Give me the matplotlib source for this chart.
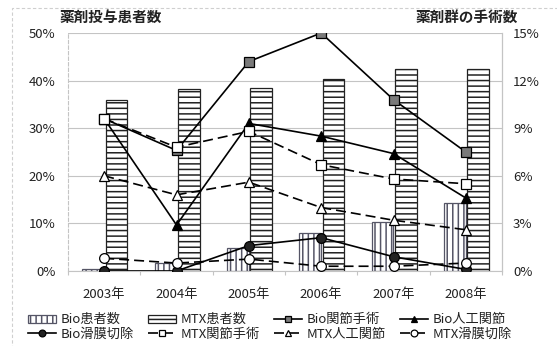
import matplotlib
matplotlib.use("Agg")
import matplotlib.pyplot as plt
from matplotlib.patches import Rectangle
import numpy as np

plt.rcParams['font.family'] = ['Noto Sans CJK JP', 'DejaVu Sans']
plt.rcParams['hatch.linewidth'] = 1.1

years = ["2003年", "2004年", "2005年", "2006年", "2007年", "2008年"]

# patient share (left axis, %)
bio_patients = [0.5, 1.7, 4.8, 8.0, 10.3, 14.3]
mtx_patients = [36.0, 38.2, 38.4, 40.3, 42.4, 42.4]

# surgery share (right axis, %)
bio_joint_surgery = [9.6, 7.6, 13.2, 15.0, 10.8, 7.5]
bio_arthroplasty = [9.6, 2.9, 9.3, 8.5, 7.4, 4.6]
bio_synovectomy = [0.0, 0.0, 1.6, 2.1, 0.9, 0.1]
mtx_joint_surgery = [9.6, 7.8, 8.8, 6.7, 5.8, 5.5]
mtx_arthroplasty = [6.0, 4.8, 5.6, 4.0, 3.2, 2.6]
mtx_synovectomy = [0.8, 0.5, 0.75, 0.3, 0.3, 0.5]

W, H = 557, 346
fig = plt.figure(figsize=(W / 100, H / 100), dpi=100)
ax = fig.add_axes([68 / W, 1 - 271 / H, (502 - 68) / W, (271 - 33) / H])
ax2 = ax.twinx()

x = np.arange(len(years))
bw = 0.30
grid_c = "#c4c4c4"

# bars on the left axis
ax.bar(x - bw, bio_patients, width=bw, align="edge", facecolor="white",
       edgecolor="#555566", hatch="|||", linewidth=0.9, zorder=2, label="Bio患者数")
ax.bar(x + 0.02, mtx_patients, width=bw, align="edge", facecolor="white",
       edgecolor="#222222", hatch="---", linewidth=0.9, zorder=2, label="MTX患者数")

ax.set_xlim(-0.5, len(years) - 0.5)
ax.set_ylim(0, 50)
ax.set_yticks(np.arange(0, 51, 10))
ax.set_yticklabels([f"{v}%" for v in range(0, 51, 10)])
ax.yaxis.grid(True, color=grid_c, linewidth=0.8, zorder=0)
ax.set_axisbelow(True)
ax.tick_params(axis="y", length=0, pad=9, labelsize=9.5, colors="#222222")
ax.set_xticks(np.arange(-0.5, len(years), 1.0))
ax.set_xticklabels([])
ax.set_xticks(x, minor=True)
ax.set_xticklabels(years, minor=True)
ax.tick_params(axis="x", which="major", length=3, color=grid_c, direction="out")
ax.tick_params(axis="x", which="minor", length=0, pad=12, labelsize=9.5, colors="#222222")
ax.spines["top"].set_visible(False)
ax.spines["left"].set_color(grid_c)
ax.spines["left"].set_linestyle((0, (3, 2)))
ax.spines["bottom"].set_color(grid_c)
ax.spines["right"].set_color(grid_c)

# lines on the right axis
dash = (0, (6, 3))
common = dict(color="black", linewidth=1.2, markersize=7, markeredgecolor="black",
              markeredgewidth=0.9)
ax2.plot(x, bio_joint_surgery, marker="s", markerfacecolor="#7a7a7a",
         linestyle="-", label="Bio関節手術", **common)
ax2.plot(x, bio_arthroplasty, marker="^", markerfacecolor="black",
         linestyle="-", label="Bio人工関節", **common)
ax2.plot(x, bio_synovectomy, marker="o", markerfacecolor="#222222",
         linestyle="-", label="Bio滑膜切除", **common)
ax2.plot(x, mtx_joint_surgery, marker="s", markerfacecolor="white",
         linestyle=dash, label="MTX関節手術", **common)
ax2.plot(x, mtx_arthroplasty, marker="^", markerfacecolor="white",
         linestyle=dash, label="MTX人工関節", **common)
ax2.plot(x, mtx_synovectomy, marker="o", markerfacecolor="white",
         linestyle=dash, label="MTX滑膜切除", **common)

ax2.set_ylim(0, 15)
ax2.set_yticks(np.arange(0, 16, 3))
ax2.set_yticklabels([f"{v}%" for v in range(0, 16, 3)])
ax2.tick_params(axis="y", length=0, pad=8, labelsize=9.5, colors="#222222")
for side in ("top", "left", "bottom"):
    ax2.spines[side].set_visible(False)
ax2.spines["right"].set_color(grid_c)

# axis titles
fig.text(60 / W, 1 - 17 / H, "薬剤投与患者数", fontsize=10.5, fontweight="bold",
         ha="left", va="center", color="#222222")
fig.text(518 / W, 1 - 17 / H, "薬剤群の手術数", fontsize=10.5, fontweight="bold",
         ha="right", va="center", color="#222222")

# chart frame
fig.patches.append(Rectangle((12 / W, -0.1), 1.2, 1.1 - 8 / H, transform=fig.transFigure,
                             fill=False, edgecolor="#cfcfcf", linewidth=0.8,
                             linestyle=(0, (3, 2))))

# legend: column-major order so the rows read as drawn
h1, l1 = ax.get_legend_handles_labels()
h2, l2 = ax2.get_legend_handles_labels()
hd = dict(zip(l1 + l2, h1 + h2))
order = ["Bio患者数", "Bio滑膜切除", "MTX患者数", "MTX関節手術",
         "Bio関節手術", "MTX人工関節", "Bio人工関節", "MTX滑膜切除"]
leg = fig.legend([hd[k] for k in order], order, ncol=4, loc="center",
                 bbox_to_anchor=(270 / W, 1 - 327 / H), frameon=False,
                 fontsize=9.5, handlelength=2.1, handleheight=0.6,
                 handletextpad=0.35, columnspacing=1.1, labelspacing=0.1,
                 markerscale=0.7, borderpad=0.2)
for t in leg.get_texts():
    t.set_color("#222222")

fig.savefig("out.png", dpi=100, facecolor="white")
